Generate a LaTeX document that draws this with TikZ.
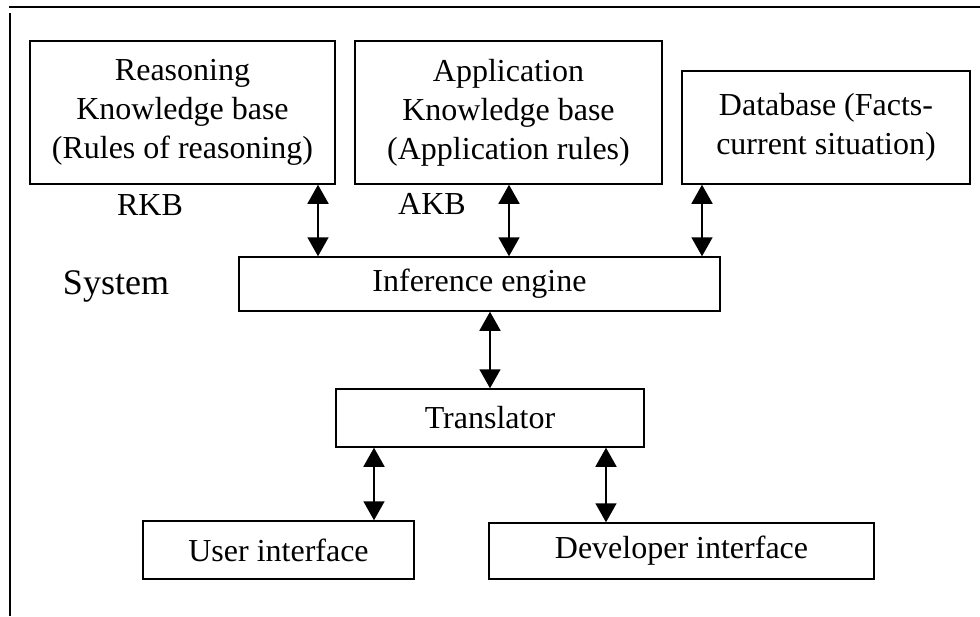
\documentclass[tikz,border=0pt]{standalone}
\usepackage{fontspec}
\setmainfont{Liberation Serif}
\usetikzlibrary{arrows.meta}

\tikzset{
  block/.style={draw, line width=0.75pt, align=center, inner sep=0pt,
    font=\fontsize{16}{19.5}\selectfont},
  tag/.style={font=\fontsize{16}{19.5}\selectfont},
  link/.style={line width=0.85pt,
    {Triangle[length=9.5pt,width=10.5pt]}-{Triangle[length=9.5pt,width=10.5pt]}}
}

\begin{document}
\begin{tikzpicture}[x=0.5pt,y=-0.5pt]
    \useasboundingbox (0,0) rectangle (980,616);
    \draw[line width=1pt] (9,7) -- (980,7);
    \draw[line width=0.75pt] (10,13) -- (10,616);

    \node[block, minimum width=152.5pt, minimum height=71.5pt] (rkb) at (182.5,112.5)
      {Reasoning\\Knowledge base\\(Rules of reasoning)};
    \node[block, minimum width=153.5pt, minimum height=71.5pt] (akb) at (508.5,112.5)
      {Application\\Knowledge base\\(Application rules)};
    \node[block, minimum width=144pt, minimum height=56.5pt] (db) at (826,127.5)
      {Database (Facts-\\current situation)};
    \node[block, minimum width=240.5pt, minimum height=27pt] (engine) at (479.5,284) {Inference engine};
    \node[block, minimum width=154pt, minimum height=29pt] (translator) at (490,418) {Translator};
    \node[block, minimum width=135.5pt, minimum height=29pt] (user) at (278.5,550) {User interface};
    \node[block, minimum width=192.5pt, minimum height=28pt] (developer) at (681.5,551) {Developer interface};

    \node[tag] (rkblabel) at (150,205) {RKB};
    \node[tag] (akblabel) at (432,204) {AKB};
    \node[font=\fontsize{18}{21}\selectfont] (system) at (116,286) {System};

    \draw[link] (318,0 |- rkb.south) -- (318,0 |- engine.north);
    \draw[link] (509,0 |- akb.south) -- (509,0 |- engine.north);
    \draw[link] (702,0 |- db.south) -- (702,0 |- engine.north);
    \draw[link] (engine.south -| translator.north) -- (translator.north);
    \draw[link] (374,0 |- translator.south) -- (374,0 |- user.north);
    \draw[link] (606,0 |- translator.south) -- (606,0 |- developer.north);
\end{tikzpicture}
\end{document}
